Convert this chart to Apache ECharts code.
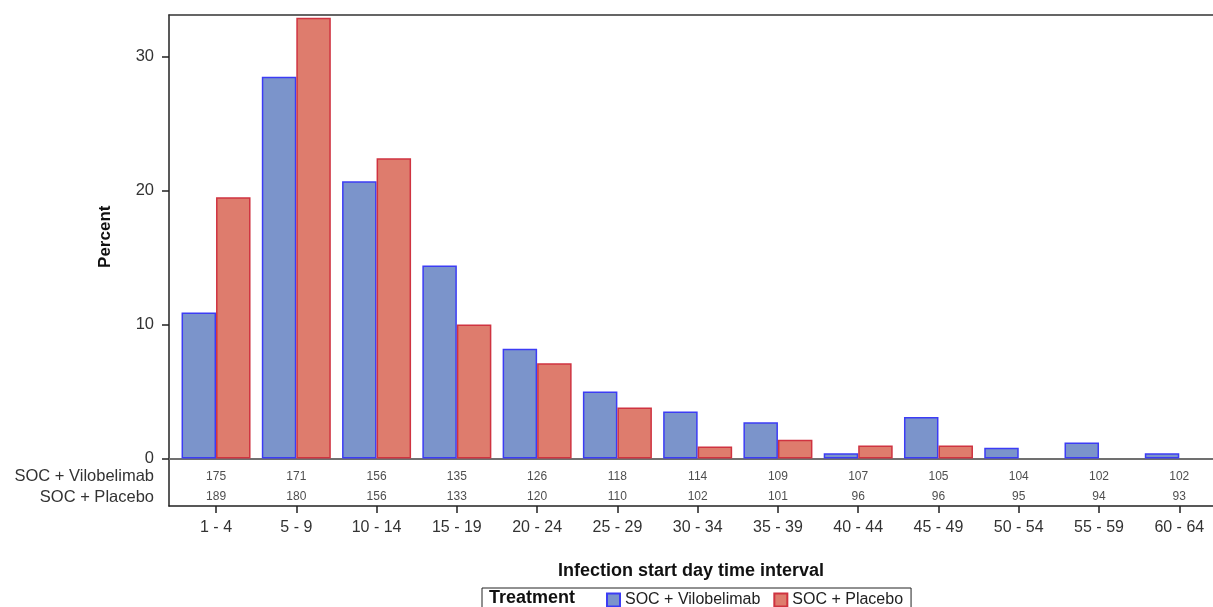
<!DOCTYPE html>
<html><head><meta charset="utf-8">
<script src="https://cdn.jsdelivr.net/npm/echarts@6/dist/echarts.min.js"></script>
<style>html,body{margin:0;padding:0;background:#fff}#c{width:1213px;height:607px}</style>
</head><body><div id="c"></div>
<script>
const categories = ['1 - 4','5 - 9','10 - 14','15 - 19','20 - 24','25 - 29','30 - 34','35 - 39','40 - 44','45 - 49','50 - 54','55 - 59','60 - 64'];
const vilobelimab = [10.9, 28.5, 20.7, 14.4, 8.2, 5.0, 3.5, 2.7, 0.4, 3.1, 0.8, 1.2, 0.4];
const placebo = [19.5, 32.9, 22.4, 10.0, 7.1, 3.8, 0.9, 1.4, 0.97, 0.97, null, null, null];
const atRiskVilobelimab = [175, 171, 156, 135, 126, 118, 114, 109, 107, 105, 104, 102, 102];
const atRiskPlacebo = [189, 180, 156, 133, 120, 110, 102, 101, 96, 96, 95, 94, 93];
const rowNames = ['SOC + Vilobelimab', 'SOC + Placebo'];
const yTicks = [0, 10, 20, 30];

const FONT = 'Liberation Sans, Arial, sans-serif';
const idx = categories.map((_, i) => i);
const xMin = -0.586, xMax = 12.42;

const chart = echarts.init(document.getElementById('c'), null, {renderer: 'canvas'});
chart.setOption({
  animation: false,
  textStyle: {fontFamily: FONT},
  title: {text: 'Treatment', left: 489, top: 589, padding: 0,
    textStyle: {fontFamily: FONT, fontWeight: 'bold', fontSize: 18, color: '#111'}},
  legend: {
    data: rowNames.map(n => ({name: n, icon: 'rect'})), left: 482, top: 588, orient: 'horizontal',
    padding: [4, 8, 4, 124], itemGap: 13, itemWidth: 13, itemHeight: 13,
    borderColor: '#222', borderWidth: 1, borderRadius: 0,
    textStyle: {fontFamily: FONT, fontSize: 16, color: '#222'}
  },
  grid: [
    {left: 169, right: 0, top: 15, bottom: 148.5},
    {left: 169, right: 0, top: 458.5, bottom: 101}
  ],
  xAxis: [
    {gridIndex: 0, type: 'value', min: xMin, max: xMax, position: 'bottom',
      axisLine: {show: true, onZero: false, lineStyle: {color: '#707070', width: 2}},
      axisTick: {show: false}, axisLabel: {show: false}, splitLine: {show: false}},
    {gridIndex: 0, type: 'value', min: xMin, max: xMax, position: 'top',
      axisLine: {show: true, onZero: false, lineStyle: {color: '#333', width: 1.5}},
      axisTick: {show: false}, axisLabel: {show: false}, splitLine: {show: false}},
    {gridIndex: 1, type: 'value', min: xMin, max: xMax, position: 'bottom',
      axisLine: {show: true, onZero: false, lineStyle: {color: '#222', width: 1.5}},
      axisTick: {show: true, customValues: idx, length: 7, lineStyle: {color: '#222', width: 1.5}},
      axisLabel: {show: true, customValues: idx, margin: 14, fontSize: 16, color: '#333',
        formatter: v => categories[Math.round(v)]},
      splitLine: {show: false},
      name: 'Infection start day time interval', nameLocation: 'middle', nameGap: 56,
      nameTextStyle: {fontFamily: FONT, fontWeight: 'bold', fontSize: 18, color: '#111'}}
  ],
  yAxis: [
    {gridIndex: 0, type: 'value', min: 0, max: 33.1,
      axisLine: {show: true, onZero: false, lineStyle: {color: '#222', width: 1.5}},
      axisTick: {show: true, customValues: yTicks, length: 7, lineStyle: {color: '#222', width: 1.5}},
      axisLabel: {customValues: yTicks, margin: 15, fontSize: 16.5, color: '#333'},
      splitLine: {show: false},
      name: 'Percent', nameLocation: 'middle', nameGap: 55,
      nameTextStyle: {fontFamily: FONT, fontWeight: 'bold', fontSize: 17, color: '#111'}},
    {gridIndex: 1, type: 'category', data: rowNames, inverse: true,
      axisLine: {show: true, onZero: false, lineStyle: {color: '#222', width: 1.5}},
      axisTick: {show: false},
      axisLabel: {margin: 15, color: '#333',
        formatter: (v, i) => (i === 0 ? '{a|' : '{b|') + v + '}',
        rich: {a: {fontSize: 16.5, color: '#333', fontFamily: FONT, padding: [12, 0, 0, 0]},
               b: {fontSize: 16.5, color: '#333', fontFamily: FONT, padding: [6, 0, 0, 0]}}},
      splitLine: {show: false}}
  ],
  series: [
    {name: rowNames[0], type: 'bar', xAxisIndex: 0, yAxisIndex: 0,
      data: vilobelimab.map((v, i) => [i, v]), barWidth: 34.5, barGap: '0%',
      itemStyle: {color: '#7B94CB', borderColor: '#3C3CF5', borderWidth: 1.5}},
    {name: rowNames[1], type: 'bar', xAxisIndex: 0, yAxisIndex: 0,
      data: placebo.map((v, i) => [i, v == null ? '-' : v]), barWidth: 34.5, barGap: '0%',
      itemStyle: {color: '#DE7C6D', borderColor: '#CF3340', borderWidth: 1.5}},
    {type: 'scatter', xAxisIndex: 2, yAxisIndex: 1, symbolSize: 1, silent: true,
      itemStyle: {color: 'rgba(0,0,0,0)'},
      data: atRiskVilobelimab.map((v, i) => [i, 0, v]),
      label: {show: true, position: 'inside', offset: [0, 6], fontSize: 12, color: '#222',
        formatter: p => p.data[2]}},
    {type: 'scatter', xAxisIndex: 2, yAxisIndex: 1, symbolSize: 1, silent: true,
      itemStyle: {color: 'rgba(0,0,0,0)'},
      data: atRiskPlacebo.map((v, i) => [i, 1, v]),
      label: {show: true, position: 'inside', offset: [0, 3], fontSize: 12, color: '#222',
        formatter: p => p.data[2]}}
  ]
});
</script></body></html>
